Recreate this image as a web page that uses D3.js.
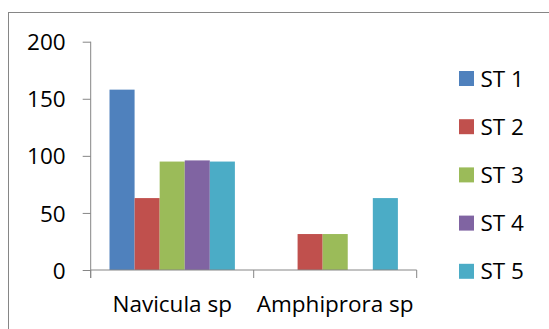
<!DOCTYPE html>
<html>
<head>
<meta charset="utf-8">
<script src="https://cdn.jsdelivr.net/npm/d3@7"></script>
<style>
  html, body { margin: 0; padding: 0; background: #fff; }
  svg { display: block; }
  text { font-family: "Open Sans", "Noto Sans", sans-serif; fill: #000; }
</style>
</head>
<body>
<svg id="chart" width="549" height="329"></svg>
<script>
// Species counted at each station
const categories = ["Navicula sp", "Amphiprora sp"];
const seriesNames = ["ST 1", "ST 2", "ST 3", "ST 4", "ST 5"];
const st1 = [158, 0];
const st2 = [63, 31.5];
const st3 = [95, 31.5];
const st4 = [96, 0];
const st5 = [95, 63];
const seriesValues = [st1, st2, st3, st4, st5];
const colors = ["#4F81BD", "#C0504D", "#9BBB59", "#8064A2", "#4BACC6"];
const yTicks = [0, 50, 100, 150, 200];

const svg = d3.select("#chart");
const axisColor = "#868686";
const fontSize = 22.5;

// outer chart frame (runs past the right and bottom edges)
svg.append("rect")
  .attr("x", 8.5).attr("y", 12.5)
  .attr("width", 700).attr("height", 500)
  .attr("fill", "none").attr("stroke", axisColor).attr("stroke-width", 1);

const plot = { left: 90.7, right: 416.7, top: 41.7, bottom: 270 };

const y = d3.scaleLinear().domain([0, 200]).range([plot.bottom, plot.top]);
const x0 = d3.scaleBand().domain(categories).range([plot.left, plot.right])
  .paddingInner(0).paddingOuter(0);
// five bars per group with a 150% gap shared on both sides
const gapRatio = 1.5;
const barW = x0.bandwidth() / (seriesNames.length + gapRatio);
const x1 = d3.scaleBand().domain(seriesNames)
  .range([barW * gapRatio / 2, barW * gapRatio / 2 + barW * seriesNames.length])
  .paddingInner(0).paddingOuter(0);

// bars
const groups = svg.append("g").selectAll("g")
  .data(categories)
  .join("g")
  .attr("transform", d => `translate(${x0(d)},0)`);

groups.selectAll("rect")
  .data((c, ci) => seriesNames.map((s, si) => ({ s, si, v: seriesValues[si][ci] })))
  .join("rect")
  .filter(d => d.v > 0)
  .attr("x", d => x1(d.s))
  .attr("width", x1.bandwidth())
  .attr("y", d => y(d.v))
  .attr("height", d => y(0) - y(d.v))
  .attr("fill", d => colors[d.si]);

// y axis
const yAxis = svg.append("g").attr("transform", `translate(${plot.left},0)`)
  .call(d3.axisLeft(y).tickValues(yTicks).tickSize(8).tickPadding(17));
yAxis.select(".domain").attr("stroke", axisColor).attr("d", `M0,${plot.top}V${plot.bottom + 8}`);
yAxis.selectAll(".tick line").attr("stroke", axisColor);
yAxis.selectAll(".tick text")
  .attr("font-size", fontSize)
  .attr("font-family", "Open Sans, Noto Sans, sans-serif")
  .attr("fill", "#000")
  .attr("dy", "0.36em");

// x axis
const xAxis = svg.append("g").attr("transform", `translate(0,${plot.bottom})`);
xAxis.append("path")
  .attr("d", `M${plot.left},0H${plot.right}`)
  .attr("stroke", axisColor).attr("fill", "none");
const bounds = categories.map(c => x0(c)).concat([plot.right]);
xAxis.selectAll("line.sep")
  .data(bounds)
  .join("line")
  .attr("class", "sep")
  .attr("x1", d => d).attr("x2", d => d)
  .attr("y1", 0).attr("y2", 8)
  .attr("stroke", axisColor);
xAxis.selectAll("text")
  .data(categories)
  .join("text")
  .attr("x", d => x0(d) + x0.bandwidth() / 2)
  .attr("y", 42)
  .attr("text-anchor", "middle")
  .attr("font-size", fontSize)
  .text(d => d);

// legend
const legend = svg.append("g").attr("transform", "translate(459,71)");
const rowH = 48.2;
const item = legend.selectAll("g")
  .data(seriesNames)
  .join("g")
  .attr("transform", (d, i) => `translate(0,${i * rowH})`);
item.append("rect")
  .attr("width", 15).attr("height", 15)
  .attr("fill", (d, i) => colors[i]);
item.append("text")
  .attr("x", 21.5).attr("y", 15.5)
  .attr("font-size", fontSize)
  .text(d => d);
</script>
</body>
</html>
